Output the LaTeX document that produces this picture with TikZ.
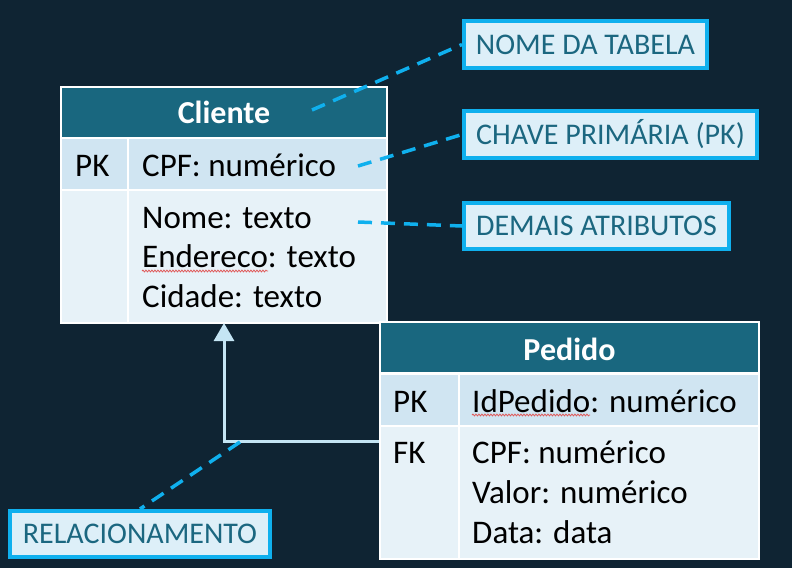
\documentclass[tikz,border=0pt]{standalone}
\usepackage{fontspec}
\setmainfont{Carlito}
\usetikzlibrary{arrows.meta,decorations.pathmorphing}
\definecolor{bg}{HTML}{0F2433}
\definecolor{hdr}{HTML}{19677F}
\definecolor{pkfill}{HTML}{D0E5F2}
\definecolor{atfill}{HTML}{E7F2F8}
\definecolor{cyanb}{HTML}{0FB0EE}
\definecolor{callfill}{HTML}{DDEFF8}
\definecolor{calltext}{HTML}{1B6780}
\definecolor{relcol}{HTML}{C4E5F4}
\definecolor{squig}{HTML}{E05A5A}
\begin{document}
\begin{tikzpicture}[x=1pt,y=-1pt,
  cell/.style={draw=white,line width=2pt,anchor=north west,inner sep=0pt,outer sep=0pt},
  headcell/.style={cell,fill=hdr},
  pkcell/.style={cell,fill=pkfill},
  atcell/.style={cell,fill=atfill},
  txt/.style={anchor=base west,inner sep=0pt,font=\fontsize{33}{40}\selectfont,text=black},
  htxt/.style={anchor=base,inner sep=0pt,font=\fontsize{32}{40}\selectfont\bfseries,text=white},
  callout/.style={draw=cyanb,line width=4pt,fill=callfill,text=calltext,font=\fontsize{30}{36}\selectfont,text height=19.5pt,text depth=0pt,inner sep=0pt},
  lead/.style={draw=cyanb,line width=3.5pt,dash pattern=on 14pt off 9pt},
  relline/.style={draw=relcol,line width=3pt,-{Triangle[width=20pt,length=18pt]}},
  squiggle/.style={draw=squig,line width=0.8pt,decorate,decoration={snake,amplitude=0.9pt,segment length=3pt}}
  ]
\useasboundingbox (0,0) rectangle (792,568);
\fill[bg] (0,0) rectangle (792,568);

% Cliente table
\node[headcell,minimum width=326pt,minimum height=51pt] (cliHead) at (61,87) {};
\node[pkcell,minimum width=67pt,minimum height=52pt] (cliPKk) at (61,138) {};
\node[pkcell,minimum width=259pt,minimum height=52pt] (cliPKv) at (128,138) {};
\node[atcell,minimum width=67pt,minimum height=133pt] (cliAtk) at (61,190) {};
\node[atcell,minimum width=259pt,minimum height=133pt] (cliAtv) at (128,190) {};
\node[htxt] (cliTitle) at (224,123) {Cliente};
\node[txt] (cliPK) at (75,176) {PK};
\node[txt] (cliCPF) at (142,176) {CPF: numérico};
\node[txt] (cliNome) at (142,228) {Nome: texto};
\node[txt] (cliEnd) at (142,267) {Endereco: texto};
\node[txt] (cliCid) at (142,307) {Cidade: texto};
\coordinate (sqA1) at (142,271);
\coordinate (sqA2) at (268,271);
\draw[squiggle] (sqA1) -- (sqA2);

% Relationship arrow
\coordinate (relStart) at (380,441);
\draw[relline] (relStart) -| (cliHead.center |- cliAtv.south);

% Pedido table
\node[headcell,minimum width=379pt,minimum height=51pt] (pedHead) at (380,322) {};
\node[pkcell,minimum width=79pt,minimum height=52pt] (pedPKk) at (380,374) {};
\node[pkcell,minimum width=300pt,minimum height=52pt] (pedPKv) at (459,374) {};
\node[atcell,minimum width=79pt,minimum height=133pt] (pedFKk) at (380,426) {};
\node[atcell,minimum width=300pt,minimum height=133pt] (pedFKv) at (459,426) {};
\node[htxt] (pedTitle) at (569.5,360) {Pedido};
\node[txt] (pedPK) at (393,412) {PK};
\node[txt] (pedId) at (472,412) {IdPedido: numérico};
\node[txt] (pedFK) at (393,463) {FK};
\node[txt] (pedCPF) at (472,463) {CPF: numérico};
\node[txt] (pedVal) at (472,503) {Valor: numérico};
\node[txt] (pedData) at (472,543) {Data: data};
\coordinate (sqB1) at (472,415);
\coordinate (sqB2) at (590,415);
\draw[squiggle] (sqB1) -- (sqB2);

% Callouts
\node[callout,minimum width=243pt,minimum height=47pt] (cNome) at (585.5,44.5) {NOME DA TABELA};
\node[callout,minimum width=293pt,minimum height=47pt] (cChave) at (610.5,134.5) {CHAVE PRIMÁRIA (PK)};
\node[callout,minimum width=265pt,minimum height=46pt] (cDemais) at (596.5,226) {DEMAIS ATRIBUTOS};
\node[callout,minimum width=260pt,minimum height=46pt] (cRel) at (140,534) {RELACIONAMENTO};

% Leader lines
\coordinate (lNome) at (312,110);
\coordinate (lChave) at (358,166);
\coordinate (lDemais) at (358,222);
\coordinate (lRel) at (240,442);
\draw[lead] (lNome) -- (cNome.west);
\draw[lead] (lChave) -- (cChave.west);
\draw[lead] (lDemais) -- (cDemais.west);
\draw[lead] (lRel) -- (cRel.north);
\end{tikzpicture}
\end{document}
